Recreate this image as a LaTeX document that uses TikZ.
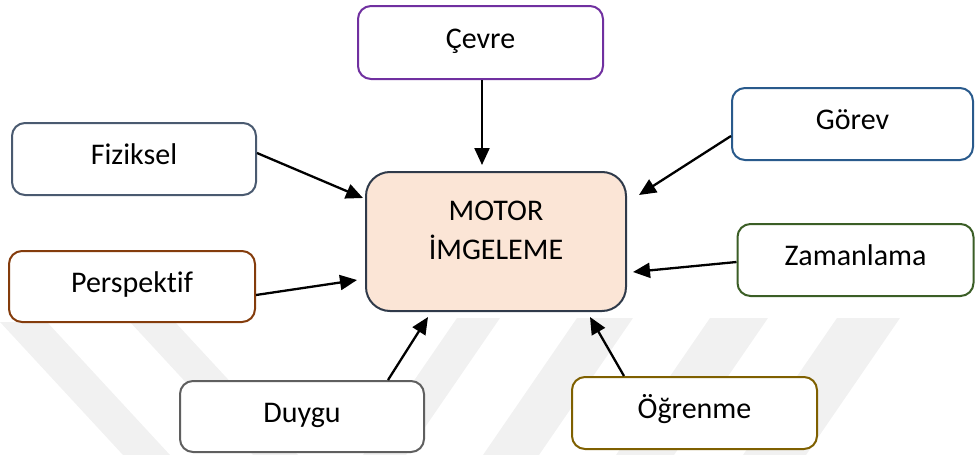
\documentclass[tikz,border=0pt]{standalone}
\usepackage{fontspec}
\setmainfont{Carlito}[Ligatures=NoCommon]
\usetikzlibrary{arrows.meta}
\definecolor{cPurple}{HTML}{7030A0}
\definecolor{cSlate}{HTML}{4A5A70}
\definecolor{cBrown}{HTML}{843C0C}
\definecolor{cBlue}{HTML}{295A8C}
\definecolor{cGreen}{HTML}{3B5E26}
\definecolor{cGray}{HTML}{5F5F5F}
\definecolor{cGold}{HTML}{7F6000}
\definecolor{cDark}{HTML}{2F3A4A}
\definecolor{cPeach}{HTML}{FBE5D6}
\definecolor{cWater}{HTML}{F1F1F1}
\begin{document}
\begin{tikzpicture}[x=1pt,y=-1pt,
  box/.style={draw, line width=2pt, rounded corners=13pt, fill=white, inner sep=0pt,
    text height=18pt, text depth=7pt, font=\fontsize{30}{36}\selectfont},
  arr/.style={line width=2.3pt, -{Triangle[length=17pt,width=15pt]}},
  wm/.style={fill=cWater, draw=none}]
\useasboundingbox (0,0) rectangle (975,455);
% faint watermark bands
\fill[wm] (0,322) -- (47,322) -- (170,455) -- (123,455) -- cycle;
\fill[wm] (130,322) -- (175,322) -- (298,455) -- (253,455) -- cycle;
\fill[wm] (457,318) -- (500,318) -- (406,455) -- (363,455) -- cycle;
\fill[wm] (577,318) -- (633,318) -- (539,455) -- (483,455) -- cycle;
\fill[wm] (710,318) -- (768,318) -- (674,455) -- (616,455) -- cycle;
\fill[wm] (837,318) -- (900,318) -- (806,455) -- (743,455) -- cycle;
% boxes
\node[box, draw=cPurple, minimum width=245pt, minimum height=73pt] (cevre) at (480.5,42.5) {Çevre};
\node[box, draw=cSlate, minimum width=244pt, minimum height=72pt] (fiz) at (134,159) {Fiziksel};
\node[box, draw=cBrown, minimum width=246pt, minimum height=71pt] (persp) at (132,286.5) {Perspektif};
\node[box, draw=cBlue, minimum width=241pt, minimum height=72pt] (gorev) at (852.5,124) {Görev};
\node[box, draw=cGreen, minimum width=236pt, minimum height=72pt] (zaman) at (855.5,260) {Zamanlama};
\node[box, draw=cGray, minimum width=244pt, minimum height=71pt] (duygu) at (302,416.5) {Duygu};
\node[box, draw=cGold, minimum width=245pt, minimum height=72pt] (ogren) at (694.5,413) {Öğrenme};
\node[draw=cDark, line width=2pt, rounded corners=24pt, fill=cPeach, inner sep=0pt,
  minimum width=260pt, minimum height=139pt] (motor) at (496,241.5) {};
\node[inner sep=0pt, align=center, font=\fontsize{30}{39}\selectfont] (motortxt) at (496,230.2) {MOTOR\\İMGELEME};
% arrows
\draw[arr] ([xshift=1.5pt]cevre.south) -- ([xshift=-14pt,yshift=6pt]motor.north);
\draw[arr] ([yshift=6pt]fiz.east) -- ([xshift=-2pt,yshift=-27pt]motor.north west);
\draw[arr] ([yshift=-8.5pt]persp.east) -- ([xshift=-8pt,yshift=-38.5pt]motor.west);
\draw[arr] ([yshift=-12pt]gorev.west) -- ([xshift=12pt,yshift=-24pt]motor.north east);
\draw[arr] ([yshift=-2pt]zaman.west) -- ([xshift=6pt,yshift=-30.5pt]motor.east);
\draw[arr] ([xshift=86pt]duygu.north) -- ([xshift=-68pt,yshift=-5pt]motor.south);
\draw[arr] ([xshift=-70.5pt]ogren.north) -- ([xshift=94pt,yshift=-5pt]motor.south);
\end{tikzpicture}
\end{document}
